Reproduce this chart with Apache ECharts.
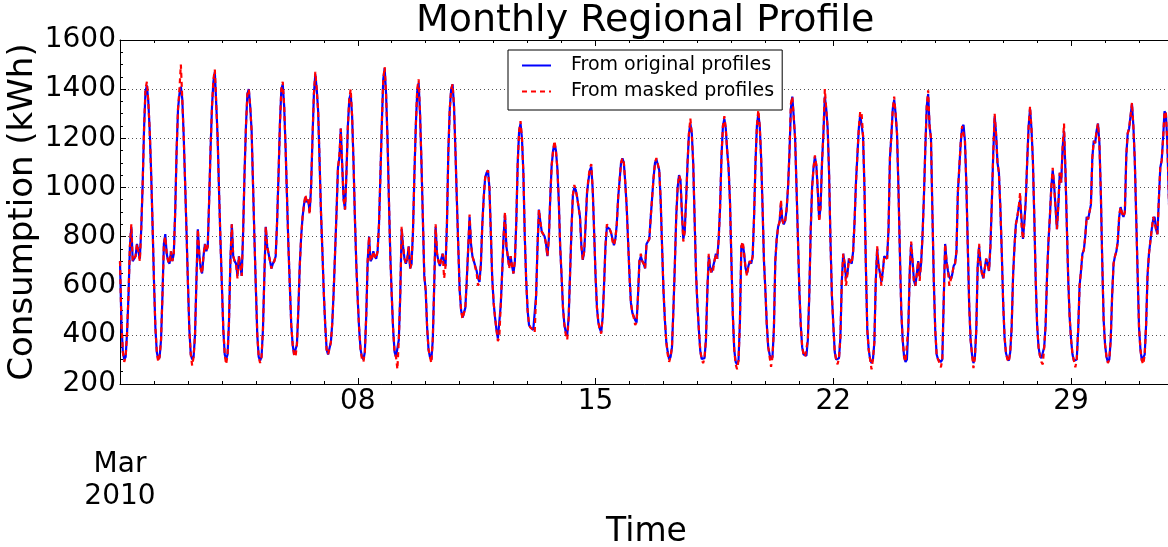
<!DOCTYPE html>
<html>
<head>
<meta charset="utf-8">
<script src="https://cdn.jsdelivr.net/npm/echarts@6/dist/echarts.min.js"></script>
<style>
  html, body { margin: 0; padding: 0; background: #fff; }
  #chart { width: 1168px; height: 547px; }
</style>
</head>
<body>
<div id="chart"></div>
<script>
// hourly consumption, Mar 1 2010 00:00 onwards, one row per day
var startTime = Date.UTC(2010, 2, 1);
var endTime = Date.UTC(2010, 3, 1);
var HOUR = 3600 * 1000;
var DAY = 24 * HOUR;
var yTicks = [200, 400, 600, 800, 1000, 1200, 1400, 1600];
var seriesNames = ['From original profiles', 'From masked profiles'];

var originalKwh = [
  700, 450, 330, 300, 310, 410, 560, 760, 840, 700, 700, 720, 770, 740, 710, 830, 1010, 1240, 1390, 1415, 1350, 1230, 1060, 850,
  620, 430, 330, 300, 310, 380, 560, 770, 810, 730, 700, 690, 740, 700, 730, 900, 1150, 1320, 1380, 1410, 1360, 1210, 1020, 820,
  610, 420, 320, 300, 310, 400, 620, 830, 730, 670, 650, 720, 770, 740, 760, 950, 1160, 1330, 1430, 1470, 1340, 1200, 980, 780,
  600, 420, 320, 300, 320, 450, 700, 850, 720, 700, 690, 640, 720, 680, 640, 820, 1060, 1250, 1380, 1400, 1330, 1230, 1010, 790,
  590, 400, 310, 295, 310, 420, 640, 840, 760, 730, 700, 670, 690, 700, 720, 860, 1050, 1260, 1400, 1420, 1330, 1160, 960, 760,
  600, 440, 360, 320, 315, 360, 500, 680, 800, 880, 930, 960, 940, 950, 900, 1000, 1200, 1380, 1460, 1400, 1310, 1110, 900, 740,
  570, 440, 340, 320, 320, 370, 450, 580, 740, 900, 1080, 1120, 1240, 1090, 950, 910, 1060, 1250, 1360, 1380, 1290, 1100, 870, 680,
  540, 420, 340, 310, 300, 330, 480, 700, 800, 700, 710, 740, 720, 710, 740, 850, 1050, 1260, 1440, 1485, 1380, 1200, 950, 720,
  560, 420, 330, 310, 310, 380, 560, 830, 760, 710, 690, 710, 760, 670, 690, 820, 1050, 1250, 1390, 1425, 1300, 1100, 870, 640,
  580, 430, 340, 310, 300, 380, 600, 840, 730, 700, 680, 710, 730, 690, 680, 850, 1150, 1320, 1400, 1420, 1330, 1150, 950, 760,
  580, 500, 470, 475, 510, 620, 750, 880, 770, 720, 700, 700, 660, 630, 615, 690, 850, 960, 1040, 1060, 1070, 1000, 820, 630,
  530, 470, 420, 385, 390, 520, 650, 800, 890, 760, 720, 680, 720, 680, 650, 700, 860, 1100, 1230, 1260, 1200, 1060, 800, 620,
  500, 440, 430, 430, 420, 420, 560, 760, 910, 860, 820, 810, 800, 770, 720, 790, 960, 1090, 1150, 1180, 1150, 1080, 950, 760,
  640, 510, 440, 410, 400, 470, 650, 830, 970, 1000, 990, 960, 960, 880, 760, 705, 740, 850, 980, 1030, 1070, 1085, 990, 820,
  640, 510, 450, 425, 410, 470, 600, 760, 840, 840, 830, 815, 790, 765, 790, 850, 960, 1030, 1100, 1118, 1100, 1020, 920, 780,
  640, 530, 490, 475, 460, 450, 560, 700, 720, 700, 690, 670, 770, 780, 790, 880, 960, 1040, 1100, 1115, 1115, 1070, 950, 760,
  580, 460, 370, 330, 300, 310, 350, 500, 680, 880, 1000, 1050, 1030, 900, 790, 820, 950, 1100, 1220, 1260, 1220, 1100, 870, 650,
  520, 420, 335, 302, 295, 305, 380, 580, 720, 670, 655, 660, 700, 730, 710, 790, 920, 1130, 1250, 1280, 1240, 1150, 1080, 940,
  700, 480, 340, 290, 280, 295, 450, 760, 770, 730, 670, 650, 680, 700, 690, 720, 880, 1100, 1250, 1300, 1250, 1120, 920, 700,
  580, 440, 350, 320, 300, 310, 420, 700, 790, 840, 860, 930, 866, 850, 865, 910, 1000, 1140, 1320, 1370, 1290, 1200, 1000, 790,
  580, 440, 350, 320, 315, 315, 380, 560, 820, 1000, 1080, 1125, 1090, 990, 870, 920, 1100, 1220, 1370, 1320, 1240, 1060, 780, 560,
  440, 330, 300, 295, 305, 390, 620, 730, 690, 630, 650, 710, 700, 690, 740, 860, 1020, 1130, 1240, 1295, 1300, 1210, 1000, 680,
  420, 340, 300, 285, 300, 370, 620, 750, 680, 650, 615, 660, 720, 715, 710, 830, 1120, 1210, 1320, 1357, 1300, 1220, 1000, 740,
  500, 380, 310, 290, 300, 430, 660, 770, 700, 620, 600, 650, 700, 640, 690, 800, 960, 1160, 1330, 1380, 1250, 1200, 900, 620,
  420, 320, 300, 295, 290, 300, 540, 770, 700, 660, 635, 625, 645, 680, 690, 740, 980, 1080, 1180, 1245, 1255, 1190, 1010, 760,
  520, 380, 320, 285, 305, 420, 680, 760, 690, 650, 630, 670, 710, 690, 660, 760, 940, 1140, 1290, 1220, 1100, 1060, 920, 740,
  530, 390, 325, 305, 295, 330, 430, 640, 760, 850, 880, 920, 950, 870, 790, 860, 950, 1110, 1250, 1320, 1240, 1110, 880, 620,
  440, 350, 315, 305, 305, 350, 440, 640, 780, 880, 1000, 1070, 1010, 920, 830, 930, 1060, 1020, 1160, 1230, 1070, 840, 620, 470,
  380, 320, 295, 290, 300, 420, 600, 660, 730, 745, 800, 880, 870, 875, 930, 1120, 1190, 1180, 1230, 1260, 1180, 980, 700, 460,
  360, 310, 290, 300, 380, 560, 690, 720, 740, 780, 880, 920, 895, 880, 900, 1130, 1220, 1240, 1290, 1340, 1250, 1110, 880, 650,
  430, 340, 295, 290, 320, 440, 640, 730, 780, 830, 870, 880, 830, 810, 950, 1080, 1110, 1200, 1310, 1300, 1180, 970, 780, 600
];

var maskedKwh = [
  700, 450, 330, 290, 310, 410, 560, 760, 850, 700, 700, 720, 770, 740, 700, 830, 1010, 1240, 1400, 1430, 1350, 1230, 1060, 850,
  620, 430, 330, 290, 310, 380, 560, 770, 800, 730, 700, 690, 740, 700, 730, 900, 1150, 1320, 1400, 1500, 1360, 1210, 1020, 820,
  610, 420, 320, 275, 310, 400, 620, 830, 730, 670, 650, 720, 770, 740, 760, 950, 1160, 1330, 1440, 1480, 1340, 1200, 980, 780,
  600, 420, 320, 280, 320, 450, 700, 850, 720, 700, 690, 630, 720, 680, 640, 820, 1060, 1250, 1380, 1400, 1330, 1230, 1010, 790,
  590, 400, 310, 285, 310, 420, 640, 840, 760, 730, 700, 670, 690, 700, 720, 860, 1050, 1260, 1400, 1430, 1330, 1160, 960, 760,
  600, 440, 360, 320, 310, 360, 500, 680, 800, 880, 930, 970, 940, 950, 890, 1000, 1200, 1380, 1470, 1400, 1310, 1110, 900, 740,
  570, 440, 340, 320, 320, 370, 450, 580, 740, 900, 1080, 1130, 1240, 1090, 950, 910, 1060, 1250, 1360, 1400, 1290, 1100, 870, 680,
  540, 420, 340, 300, 290, 330, 480, 700, 800, 700, 710, 740, 720, 710, 740, 850, 1050, 1260, 1440, 1490, 1380, 1200, 950, 720,
  560, 420, 330, 310, 260, 380, 560, 840, 760, 710, 690, 710, 760, 670, 690, 820, 1050, 1250, 1400, 1440, 1300, 1100, 870, 640,
  580, 430, 340, 310, 285, 380, 600, 850, 730, 700, 680, 710, 730, 630, 680, 850, 1150, 1320, 1400, 1420, 1330, 1150, 950, 760,
  580, 500, 465, 460, 510, 620, 750, 890, 770, 720, 700, 700, 650, 600, 615, 690, 850, 960, 1040, 1060, 1070, 1000, 820, 630,
  530, 470, 420, 375, 390, 520, 650, 800, 900, 760, 720, 670, 720, 680, 650, 700, 860, 1100, 1230, 1270, 1200, 1060, 800, 620,
  500, 440, 430, 430, 420, 410, 560, 760, 910, 860, 820, 810, 800, 770, 720, 790, 960, 1090, 1150, 1190, 1150, 1080, 950, 760,
  640, 510, 440, 400, 380, 470, 650, 830, 970, 1010, 990, 960, 960, 880, 760, 705, 740, 850, 980, 1040, 1080, 1095, 990, 820,
  640, 510, 450, 420, 405, 470, 600, 760, 850, 840, 830, 815, 780, 765, 790, 850, 960, 1030, 1100, 1120, 1100, 1020, 920, 780,
  640, 530, 490, 470, 440, 450, 560, 700, 730, 700, 690, 670, 770, 780, 790, 880, 960, 1040, 1100, 1120, 1115, 1070, 950, 760,
  580, 460, 370, 320, 290, 310, 350, 500, 680, 880, 1000, 1050, 1030, 900, 780, 820, 950, 1100, 1220, 1280, 1220, 1100, 870, 650,
  520, 420, 335, 300, 285, 305, 380, 580, 730, 670, 650, 660, 700, 730, 710, 790, 920, 1130, 1250, 1290, 1240, 1150, 1080, 940,
  700, 480, 340, 280, 260, 295, 450, 760, 780, 730, 670, 640, 680, 700, 690, 720, 880, 1100, 1250, 1315, 1250, 1120, 920, 700,
  580, 440, 350, 310, 270, 310, 420, 700, 790, 840, 860, 950, 866, 850, 865, 910, 1000, 1140, 1340, 1370, 1290, 1200, 1000, 790,
  580, 440, 350, 320, 310, 315, 380, 560, 820, 1000, 1080, 1130, 1090, 990, 860, 920, 1100, 1220, 1400, 1320, 1240, 1060, 780, 560,
  440, 330, 300, 280, 305, 390, 620, 730, 690, 600, 650, 710, 700, 690, 740, 860, 1020, 1130, 1240, 1310, 1300, 1210, 1000, 680,
  420, 340, 300, 260, 300, 370, 620, 760, 680, 650, 600, 660, 720, 715, 710, 830, 1120, 1210, 1320, 1370, 1300, 1220, 1000, 740,
  500, 380, 310, 290, 285, 430, 660, 780, 700, 610, 600, 650, 700, 620, 690, 800, 960, 1160, 1330, 1395, 1250, 1200, 900, 620,
  420, 320, 300, 285, 268, 300, 540, 770, 700, 660, 600, 625, 645, 680, 690, 740, 980, 1080, 1180, 1250, 1255, 1190, 1010, 760,
  520, 380, 320, 265, 305, 420, 680, 770, 690, 650, 630, 670, 710, 690, 660, 760, 940, 1140, 1300, 1210, 1100, 1060, 920, 740,
  530, 390, 325, 300, 290, 330, 430, 640, 760, 850, 880, 920, 980, 840, 790, 860, 950, 1110, 1250, 1330, 1240, 1110, 880, 620,
  440, 350, 315, 290, 280, 350, 440, 640, 780, 880, 1000, 1080, 1010, 920, 830, 930, 1060, 1020, 1160, 1260, 1070, 840, 620, 470,
  380, 320, 295, 268, 300, 420, 600, 660, 730, 745, 800, 880, 870, 875, 930, 1120, 1190, 1180, 1230, 1260, 1180, 980, 700, 460,
  360, 310, 285, 300, 380, 560, 690, 720, 740, 780, 890, 920, 895, 880, 900, 1130, 1220, 1240, 1290, 1345, 1250, 1110, 880, 650,
  430, 340, 295, 280, 320, 440, 640, 730, 780, 830, 880, 880, 830, 810, 950, 1080, 1110, 1200, 1310, 1300, 1180, 970, 780, 600
];

function toPoints(values) {
  return values.map(function (v, i) { return [startTime + i * HOUR, v]; });
}

var FONT = 'DejaVu Sans';
var chart = echarts.init(document.getElementById('chart'), null, { renderer: 'canvas' });

chart.setOption({
  backgroundColor: '#fff',
  animation: false,
  textStyle: { fontFamily: FONT, color: '#000' },
  title: {
    text: 'Monthly Regional Profile',
    left: 416,
    top: 2,
    padding: 0,
    textStyle: { fontFamily: FONT, fontSize: 38, fontWeight: 'normal', color: '#000' }
  },
  legend: {
    data: seriesNames,
    orient: 'vertical',
    left: 508,
    top: 50,
    padding: [6, 8, 9, 13],
    itemWidth: 29,
    itemHeight: 14,
    itemGap: 7,
    itemStyle: { opacity: 0 },
    backgroundColor: '#fff',
    borderColor: '#000',
    borderWidth: 1,
    borderRadius: 0,
    textStyle: { fontFamily: FONT, fontSize: 19, color: '#000', padding: [0, 0, 0, 15] }
  },
  grid: {
    left: 120,
    right: -5,
    top: 40,
    bottom: 163,
    outerBoundsMode: 'none',
    containLabel: false
  },
  xAxis: [{
    type: 'value',
    min: startTime,
    max: endTime,
    interval: 7 * DAY,
    position: 'bottom',
    name: 'Time',
    nameLocation: 'middle',
    nameGap: 132,
    nameMoveOverlap: false,
    nameTextStyle: { fontFamily: FONT, fontSize: 33, color: '#000' },
    axisLine: { show: true, lineStyle: { color: '#000', width: 1 } },
    axisTick: { show: true, inside: true, length: 6, lineStyle: { color: '#000' } },
    minorTick: { show: true, splitNumber: 7, length: 3, lineStyle: { color: '#000' } },
    splitLine: { show: false },
    axisLabel: {
      fontFamily: FONT,
      fontSize: 28,
      color: '#000',
      margin: 2,
      lineHeight: 31.5,
      showMaxLabel: false,
      formatter: function (v) {
        if (v === startTime) return '\n\nMar\n2010';
        if (v >= endTime) return '';
        var d = new Date(v).getUTCDate();
        return (d < 10 ? '0' : '') + d;
      }
    }
  }, {
    type: 'value',
    min: startTime,
    max: endTime,
    interval: 7 * DAY,
    position: 'top',
    axisLine: { show: true, lineStyle: { color: '#000', width: 1 } },
    axisTick: { show: true, inside: true, length: 6, lineStyle: { color: '#000' } },
    minorTick: { show: true, splitNumber: 7, length: 3, lineStyle: { color: '#000' } },
    splitLine: { show: false },
    axisLabel: { show: false }
  }],
  yAxis: {
    type: 'value',
    min: yTicks[0],
    max: yTicks[yTicks.length - 1],
    interval: 200,
    name: 'Consumption (kWh)',
    nameLocation: 'middle',
    nameGap: 80,
    nameRotate: 90,
    nameMoveOverlap: false,
    nameTextStyle: { fontFamily: FONT, fontSize: 34, color: '#000' },
    axisLine: { show: true, lineStyle: { color: '#000', width: 1 } },
    axisTick: { show: true, inside: true, length: 6, lineStyle: { color: '#000' } },
    minorTick: { show: true, splitNumber: 4, length: 3, lineStyle: { color: '#000' } },
    splitLine: { show: true, lineStyle: { color: '#555', width: 1, type: [1, 3] } },
    axisLabel: {
      fontFamily: FONT, fontSize: 28, color: '#000', margin: 4,
      formatter: function (v) { return String(v); }
    }
  },
  series: [{
    name: seriesNames[0],
    type: 'line',
    xAxisIndex: 0,
    data: toPoints(originalKwh),
    symbol: 'none',
    showSymbol: false,
    smooth: false,
    lineStyle: { color: '#0000ff', width: 2.2 },
    itemStyle: { color: '#0000ff' },
    z: 2
  }, {
    name: seriesNames[1],
    type: 'line',
    xAxisIndex: 0,
    data: toPoints(maskedKwh),
    symbol: 'none',
    showSymbol: false,
    smooth: false,
    lineStyle: { color: '#ff0000', width: 2.2, type: [5, 4] },
    itemStyle: { color: '#ff0000' },
    z: 3
  }]
});
</script>
</body>
</html>
